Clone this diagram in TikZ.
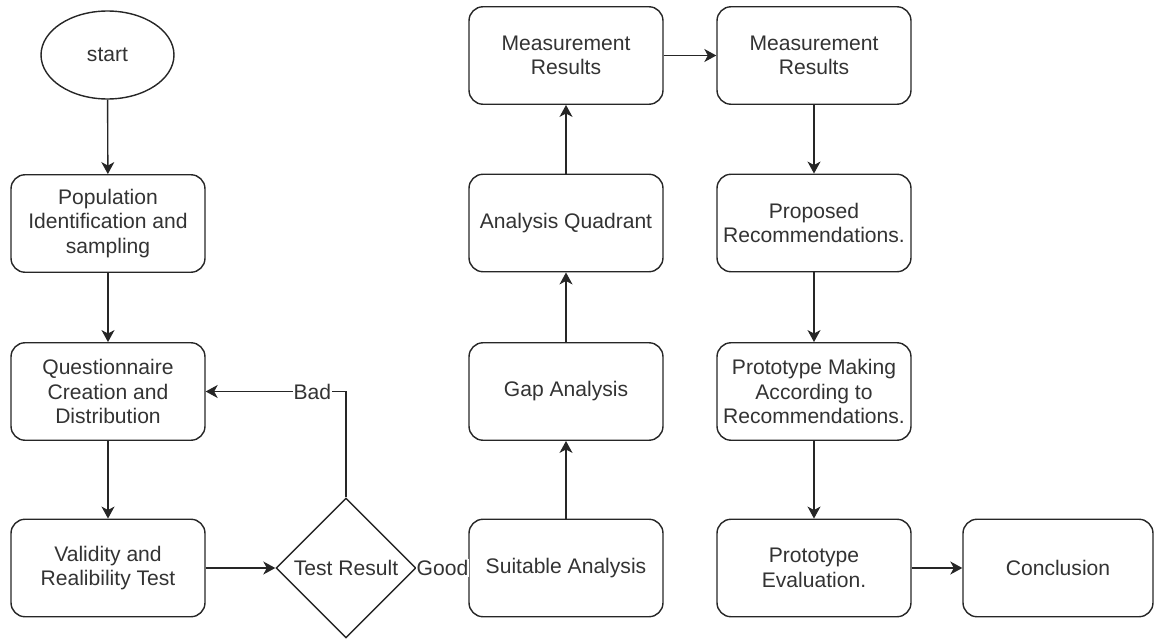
\documentclass[tikz,border=0pt]{standalone}
\usepackage{fontspec}
\setmainfont{Liberation Sans}
\usetikzlibrary{shapes.geometric,arrows.meta}
\begin{document}
\begin{tikzpicture}[x=0.02cm,y=-0.02cm,
  every node/.style={font=\fontsize{12}{14}\selectfont, text=black!80},
  boxstyle/.style={draw=black!85, line width=0.8pt, rounded corners=0.28cm, minimum width=3.88cm, minimum height=1.95cm, align=center, inner sep=0pt},
  conn/.style={draw=black!85, line width=0.8pt, -{Stealth[length=0.24cm,width=0.26cm,inset=0.07cm]}},
  lbl/.style={fill=white, inner sep=0.5pt, font=\fontsize{12}{14}\selectfont}
]
\useasboundingbox (0,0) rectangle (1154,639);
\node[draw=black!85, line width=0.8pt, ellipse, minimum width=2.66cm, minimum height=1.76cm, inner sep=0pt] (start) at (107.5,55) {start};
\node[boxstyle] (pop) at (108,223.5) {Population\\Identification and\\sampling};
\node[boxstyle] (ques) at (108,391.5) {Questionnaire\\Creation and\\Distribution};
\node[boxstyle] (val) at (108,568) {Validity and\\Realibility Test};
\node[draw=black!85, line width=0.8pt, diamond, minimum width=2.8cm, minimum height=2.8cm, inner sep=0pt] (test) at (346,568) {Test Result};
\node[boxstyle] (suit) at (566,568) {Suitable Analysis};
\node[boxstyle] (gap) at (566,391.5) {Gap Analysis};
\node[boxstyle] (quad) at (566,223) {Analysis Quadrant};
\node[boxstyle] (meas1) at (566,55.5) {Measurement\\Results};
\node[boxstyle] (meas2) at (814,55.5) {Measurement\\Results};
\node[boxstyle] (prop) at (814,223) {Proposed\\Recommendations.};
\node[boxstyle] (proto) at (814,391.5) {Prototype Making\\According to\\Recommendations.};
\node[boxstyle] (eval) at (814,568) {Prototype\\Evaluation.};
\node[boxstyle, minimum width=3.8cm] (concl) at (1058,568) {Conclusion};

\draw[conn] (start) -- (pop);
\draw[conn] (pop) -- (ques);
\draw[conn] (ques) -- (val);
\draw[conn] (val) -- (test);
\draw[conn] (test.north) |- node[lbl, pos=0.62] (badlbl) {Bad} (ques.east);
\draw[conn] (test.east) -- node[lbl, pos=0.5] (goodlbl) {Good} (suit.west);
\draw[conn] (suit) -- (gap);
\draw[conn] (gap) -- (quad);
\draw[conn] (quad) -- (meas1);
\draw[conn] (meas1) -- (meas2);
\draw[conn] (meas2) -- (prop);
\draw[conn] (prop) -- (proto);
\draw[conn] (proto) -- (eval);
\draw[conn] (eval) -- (concl);
\end{tikzpicture}
\end{document}
